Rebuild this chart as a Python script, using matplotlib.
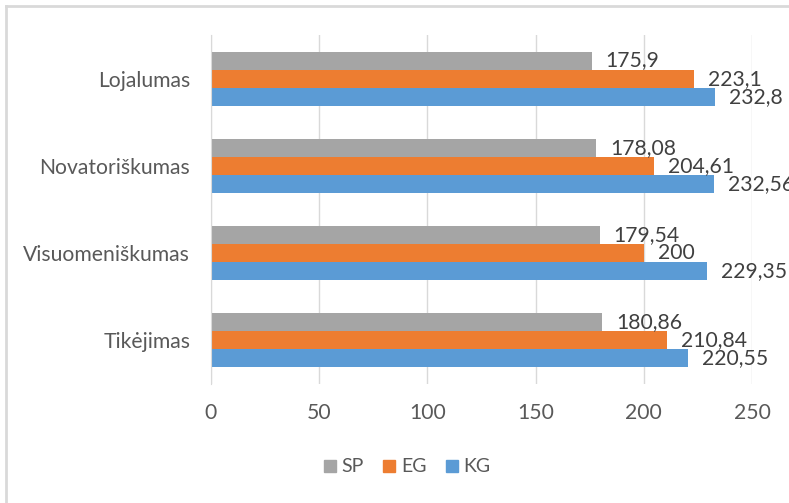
import matplotlib.pyplot as plt
import numpy as np
from matplotlib.lines import Line2D

# Data
categories = ["Tikėjimas", "Visuomeniškumas", "Novatoriškumas", "Lojalumas"]
kg = [220.55, 229.35, 232.56, 232.8]
eg = [210.84, 200, 204.61, 223.1]
sp = [180.86, 179.54, 178.08, 175.9]
labels_kg = ["220,55", "229,35", "232,56", "232,8"]
labels_eg = ["210,84", "200", "204,61", "223,1"]
labels_sp = ["180,86", "179,54", "178,08", "175,9"]
xticks = [0, 50, 100, 150, 200, 250]

plt.rcParams['font.family'] = ['Lato', 'DejaVu Sans']
text_color = "#595959"

fig = plt.figure(figsize=(7.89, 5.03), dpi=100)
ax = fig.add_axes([0.2674, 0.2366, 0.9531 - 0.2674, 0.9304 - 0.2366])

y = np.arange(len(categories))
h = 0.207
series = [("KG", kg, labels_kg, "#5B9BD5", -h),
          ("EG", eg, labels_eg, "#ED7D31", 0),
          ("SP", sp, labels_sp, "#A5A5A5", h)]

for name, vals, labs, color, off in series:
    bars = ax.barh(y + off, vals, height=h, color=color, label=name, zorder=3)
    for b, lab in zip(bars, labs):
        ax.annotate(lab, (b.get_width(), b.get_y() + b.get_height() / 2),
                    xytext=(10, 0), textcoords="offset points",
                    ha="left", va="center", fontsize=15.2, color="#404040",
                    zorder=4, annotation_clip=False)

ax.set_xlim(0, 250)
ax.set_ylim(-0.5, 3.5)
ax.set_xticks(xticks)
ax.set_yticks(y)
ax.set_yticklabels(categories)
ax.tick_params(axis="both", length=0, labelsize=15.2, labelcolor=text_color)
ax.tick_params(axis="x", pad=14)
ax.tick_params(axis="y", pad=15)
ax.grid(axis="x", color="#D9D9D9", linewidth=1, zorder=0)
for s in ["top", "right", "bottom"]:
    ax.spines[s].set_visible(False)
ax.spines["left"].set_color("#D9D9D9")
ax.spines["left"].set_zorder(5)

handles = [Line2D([], [], marker="s", linestyle="none", markersize=8,
                  color=c, label=n) for n, c in
           [("SP", "#A5A5A5"), ("EG", "#ED7D31"), ("KG", "#5B9BD5")]]
fig.legend(handles=handles, loc="center", bbox_to_anchor=(0.515, 0.0716),
           ncol=3, frameon=False, fontsize=14, labelcolor=text_color,
           handletextpad=0.2, columnspacing=0.9, handlelength=0.8)

# outer chart frame (left and top edges)
fig.add_artist(Line2D([6 / 789, 6 / 789], [0, 1 - 6 / 503], transform=fig.transFigure,
                      color="#D9D9D9", linewidth=2))
fig.add_artist(Line2D([6 / 789, 1], [1 - 6 / 503, 1 - 6 / 503], transform=fig.transFigure,
                      color="#D9D9D9", linewidth=2))

fig.savefig("out.png", dpi=100, facecolor="white")
